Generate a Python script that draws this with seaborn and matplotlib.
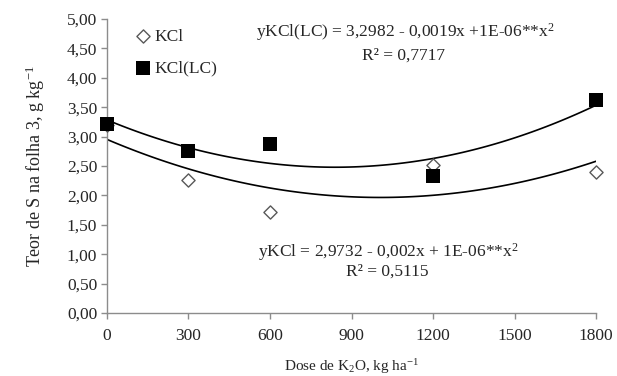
import seaborn as sns
import matplotlib.pyplot as plt
import pandas as pd

sns.set_style('white')
plt.rcParams['font.family'] = ['Liberation Serif', 'DejaVu Serif']
plt.rcParams['mathtext.fontset'] = 'custom'
plt.rcParams['mathtext.rm'] = 'Liberation Serif'
plt.rcParams['mathtext.it'] = 'Liberation Serif'

# dados
dose = [0, 300, 600, 1200, 1800]
kcl = [3.20, 2.27, 1.72, 2.52, 2.40]
kcl_lc = [3.21, 2.75, 2.88, 2.33, 3.63]

df = pd.DataFrame({'dose': dose, 'KCl': kcl, 'KCl(LC)': kcl_lc})

fig = plt.figure(figsize=(6.17, 3.76), dpi=100)
ax = fig.add_axes([0.1734, 0.1676, 0.7926, 0.7819])

# curvas de tendência (polinomial ordem 2)
sns.regplot(data=df, x='dose', y='KCl(LC)', order=2, ci=None, scatter=False,
            line_kws={'color': 'black', 'lw': 1.2}, ax=ax)
sns.regplot(data=df, x='dose', y='KCl', order=2, ci=None, scatter=False,
            line_kws={'color': 'black', 'lw': 1.2}, ax=ax)

# pontos
sns.scatterplot(data=df, x='dose', y='KCl', marker='D', s=45, color='white',
                edgecolor='#595959', linewidth=1, ax=ax, label='KCl', zorder=3)
sns.scatterplot(data=df, x='dose', y='KCl(LC)', marker='s', s=115, color='black',
                edgecolor='black', linewidth=0, ax=ax, label='KCl(LC)', zorder=4)

ax.set_xlim(0, 1800)
ax.set_ylim(0, 5)
ax.set_xticks(range(0, 1801, 300))
ax.set_yticks([i * 0.5 for i in range(11)])
ax.set_yticklabels([f'{i * 0.5:.2f}'.replace('.', ',') for i in range(11)])
ax.tick_params(axis='both', labelsize=12.5, direction='out', length=4,
               color='#8c8c8c', width=1, bottom=True, left=True)
ax.tick_params(axis='x', pad=7)
ax.tick_params(axis='y', pad=3)

for s in ['top', 'right']:
    ax.spines[s].set_visible(False)
for s in ['left', 'bottom']:
    ax.spines[s].set_color('#8c8c8c')
    ax.spines[s].set_linewidth(1)
for c in ax.collections:
    c.set_clip_on(False)

ax.set_xlabel('Dose de K$_2$O, kg ha$^{-1}$', fontsize=11, labelpad=9)
ax.set_ylabel('Teor de S na folha 3, g kg$^{-1}$', fontsize=13, labelpad=14)

ax.legend(loc='upper left', bbox_to_anchor=(0.02, 1.02), frameon=False,
          fontsize=12.5, handletextpad=0.05, labelspacing=0.9, handlelength=1.2)

ax.text(0.61, 0.956, 'yKCl(LC) = 3,2982 - 0,0019x +1E-06**x$^2$', transform=ax.transAxes,
        ha='center', va='center', fontsize=12.5)
ax.text(0.607, 0.874, 'R² = 0,7717', transform=ax.transAxes,
        ha='center', va='center', fontsize=12.5)
ax.text(0.575, 0.207, 'yKCl = 2,9732 - 0,002x + 1E-06**x$^2$', transform=ax.transAxes,
        ha='center', va='center', fontsize=12.5)
ax.text(0.574, 0.139, 'R² = 0,5115', transform=ax.transAxes,
        ha='center', va='center', fontsize=12.5)

fig.savefig('out.png', dpi=100)
